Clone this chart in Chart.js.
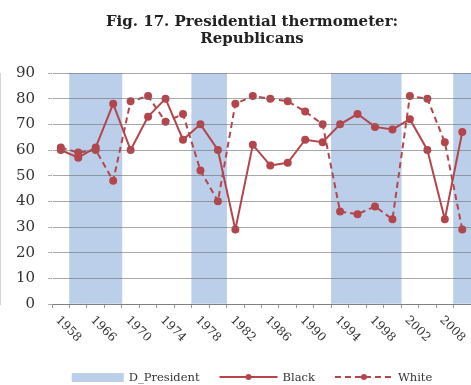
<!DOCTYPE html>
<html>
<head>
<meta charset="utf-8">
<script src="https://cdn.jsdelivr.net/npm/chart.js@4.4.0/dist/chart.umd.min.js"></script>
<style>
  html, body { margin: 0; padding: 0; background: #fff; }
  #wrap { width: 471px; height: 385px; }
</style>
</head>
<body>
<div id="wrap"><canvas id="chartThermo" width="471" height="385"></canvas></div>
<script>
// ANES survey years (only every other one is labelled on the axis)
const years = ['1958', '1964', '1966', '1968', '1970', '1972', '1974', '1976', '1978', '1980', '1982', '1984',
               '1986', '1988', '1990', '1992', '1994', '1996', '1998', '2000', '2002', '2004', '2008', '2012'];
const black = [60, 57, 61, 78, 60, 73, 80, 64, 70, 60, 29, 62, 54, 55, 64, 63, 70, 74, 69, 68, 72, 60, 33, 67];
const white = [61, 59, 60, 48, 79, 81, 71, 74, 52, 40, 78, 81, 80, 79, 75, 70, 36, 35, 38, 33, 81, 80, 63, 29];
// 1 = Democratic president in office
const demPresident = [0, 1, 1, 1, 0, 0, 0, 0, 1, 1, 0, 0, 0, 0, 0, 0, 1, 1, 1, 1, 0, 0, 0, 1];
const yMax = 90;
const titleLines = ['Fig. 17. Presidential thermometer:', 'Republicans'];

const serif = '"DejaVu Serif", "Liberation Serif", serif';
const red = '#b4464b';

// title, rotated year labels and legend are drawn by hand
const extrasPlugin = {
    id: 'extras',
    afterDraw(chart) {
        const ctx = chart.ctx;
        const xs = chart.scales.x;
        const area = chart.chartArea;
        const cx = 252;
        ctx.save();

        // title
        ctx.fillStyle = '#222';
        ctx.font = 'bold 15px ' + serif;
        ctx.textAlign = 'center';
        ctx.textBaseline = 'alphabetic';
        titleLines.forEach((t, i) => ctx.fillText(t, cx, 26 + i * 17));

        // year labels, slanted down to the right
        ctx.font = '12px ' + serif;
        ctx.fillStyle = '#333';
        ctx.textAlign = 'left';
        ctx.textBaseline = 'top';
        years.forEach((y, i) => {
            if (i % 2) return;
            const x = xs.getPixelForValue(i);
            ctx.save();
            ctx.translate(x + 1, area.bottom + 10);
            ctx.rotate(Math.PI / 4);
            ctx.fillText(y, 0, 0);
            ctx.restore();
        });

        // legend
        ctx.font = '11.5px ' + serif;
        ctx.textBaseline = 'middle';
        const ly = 377;
        const items = chart.data.datasets.map(ds => ({
            ds,
            sw: ds.type === 'bar' ? 52 : 58,
            tw: ctx.measureText(ds.label).width
        }));
        const total = items.reduce((s, it) => s + it.sw + 5 + it.tw, 0) + 20 * (items.length - 1);
        let x = cx - total / 2;
        items.forEach(it => {
            const ds = it.ds;
            if (ds.type === 'bar') {
                ctx.fillStyle = ds.backgroundColor;
                ctx.fillRect(x, ly - 4, it.sw, 9);
            } else {
                ctx.strokeStyle = ds.borderColor;
                ctx.lineWidth = ds.borderWidth;
                ctx.setLineDash(ds.borderDash || []);
                ctx.beginPath();
                ctx.moveTo(x, ly);
                ctx.lineTo(x + it.sw, ly);
                ctx.stroke();
                ctx.setLineDash([]);
                ctx.fillStyle = ds.pointBackgroundColor;
                ctx.beginPath();
                ctx.arc(x + it.sw / 2, ly, 3, 0, Math.PI * 2);
                ctx.fill();
            }
            x += it.sw + 5;
            ctx.fillStyle = '#333';
            ctx.fillText(ds.label, x, ly + 1);
            x += it.tw + 20;
        });

        ctx.restore();
    }
};

new Chart(document.getElementById('chartThermo'), {
    data: {
        labels: years,
        datasets: [
            {
                type: 'bar', label: 'D_President',
                data: demPresident.map(d => d ? yMax : null),
                backgroundColor: '#bccfea',
                barPercentage: 1, categoryPercentage: 1, order: 3
            },
            {
                type: 'line', label: 'Black', data: black,
                borderColor: red, borderWidth: 2,
                pointRadius: 3, pointBackgroundColor: red, pointBorderColor: red,
                tension: 0, order: 1
            },
            {
                type: 'line', label: 'White', data: white,
                borderColor: red, borderWidth: 2, borderDash: [6, 4],
                pointRadius: 3, pointBackgroundColor: red, pointBorderColor: red,
                tension: 0, order: 2
            }
        ]
    },
    options: {
        responsive: false, animation: false,
        layout: { autoPadding: false, padding: { top: 73, left: 3, right: 0, bottom: 77 } },
        plugins: { legend: { display: false }, title: { display: false }, tooltip: { enabled: false } },
        scales: {
            x: {
                offset: true,
                grid: { offset: true, drawOnChartArea: false, drawTicks: true, tickLength: 4, color: '#999' },
                border: { color: '#999' },
                ticks: { display: false }
            },
            y: {
                min: 0, max: yMax,
                ticks: { stepSize: 10, color: '#333', padding: 13, font: { family: serif, size: 15 } },
                grid: { color: 'rgba(110,110,110,0.6)', tickLength: 4, z: 1 },
                border: { color: '#aaa' }
            }
        }
    },
    plugins: [extrasPlugin]
});
</script>
</body>
</html>
